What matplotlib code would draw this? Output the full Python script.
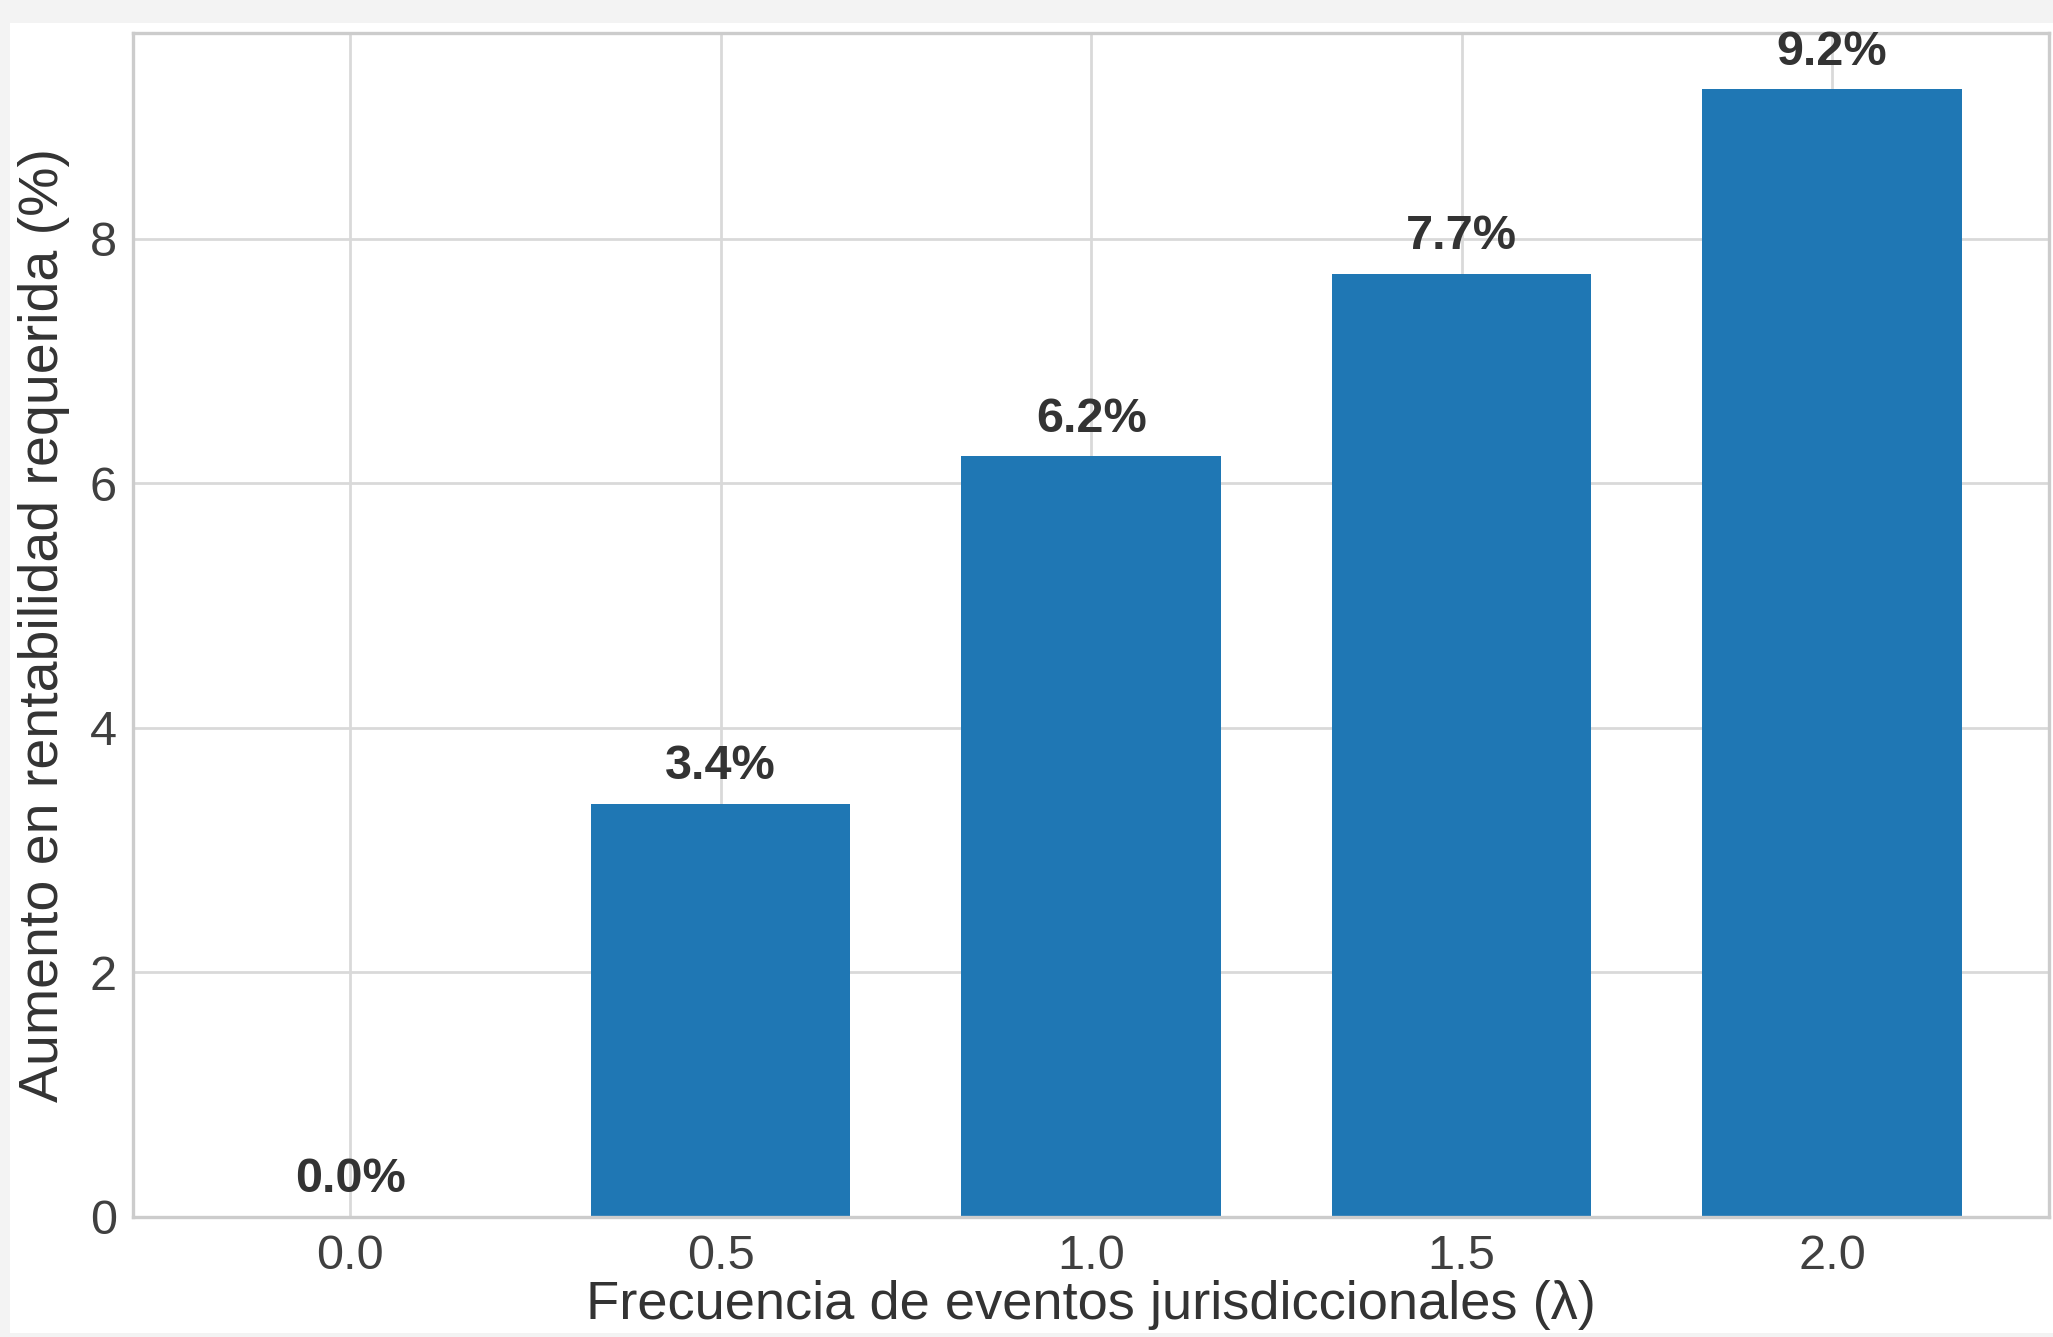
import matplotlib
matplotlib.use("Agg")
import matplotlib.pyplot as plt
from matplotlib.patches import Rectangle

# values
lambdas = [0.0, 0.5, 1.0, 1.5, 2.0]
aumento = [0.0, 3.38, 6.22, 7.71, 9.22]
etiquetas = ["0.0%", "3.4%", "6.2%", "7.7%", "9.2%"]

plt.style.use("seaborn-v0_8-whitegrid")
plt.rcParams['font.family'] = ['Liberation Sans', 'DejaVu Sans']

fig = plt.figure(figsize=(10.265, 6.685), dpi=200, facecolor='#f3f3f3')
# white figure area (the reference looks like a cropped screenshot)
fig.patches.append(Rectangle((0.005, 0.003), 0.995, 0.98, transform=fig.transFigure,
                             facecolor='white', edgecolor='none', zorder=-10))
ax = fig.add_axes([0.065, 0.0898, 0.933, 0.8855])

ax.bar(lambdas, aumento, width=0.35, color='#1f77b4')
for x, h, t in zip(lambdas, aumento, etiquetas):
    ax.text(x, h + 0.12, t, ha='center', va='bottom', fontsize=17.5,
            fontweight='bold', color='.2')

ax.set_ylim(0, max(aumento) * 1.05)
ax.set_xticks(lambdas)
ax.set_xticklabels([f"{v:.1f}" for v in lambdas])
ax.tick_params(labelsize=17.5, colors='.25', pad=6)
ax.set_xlabel("Frecuencia de eventos jurisdiccionales (λ)", fontsize=19.6, color='.2', labelpad=0.5)
ax.set_ylabel("Aumento en rentabilidad requerida (%)", fontsize=20, color='.2', labelpad=7)
for s in ax.spines.values():
    s.set_color('.8')
    s.set_linewidth(1.2)
ax.grid(color='.85', linewidth=1.0)

fig.savefig("out.png", dpi=200, facecolor=fig.get_facecolor())
